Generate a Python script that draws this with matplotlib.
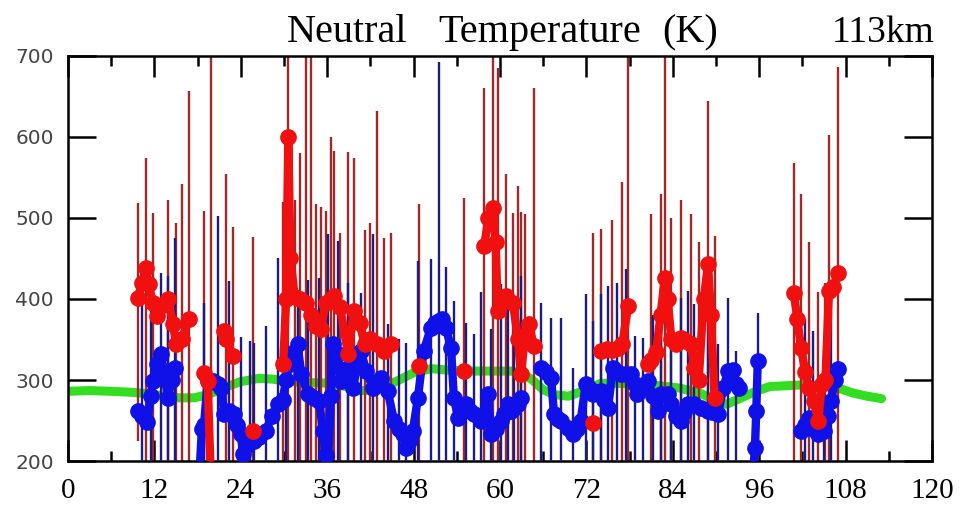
import matplotlib
matplotlib.use("Agg")
import matplotlib.pyplot as plt
from matplotlib.ticker import MultipleLocator

nan = float("nan")

# red series: local time, temperature, error bar up / down (0 = no bar)
red_x = [9.7, 10.3, 10.8, 11.2, 11.8, 12.4, 13.2, 13.9, 14.6, 15.0, 15.8, 16.8, nan,
         18.9, 19.4, 19.8, nan, 21.7, 22.0, 22.9, nan, 25.7, nan,
         29.9, 30.3, 30.6, 30.9, 31.5, 32.2, 33.1, 33.8, 34.5, 35.1, 35.8, 36.5, 37.0,
         37.8, 38.9, 39.7, 40.5, 41.2, 41.9, 42.9, 43.9, 44.9, nan, 48.8, nan, 55.0, nan,
         57.8, 58.4, 59.0, 59.4, 59.7, 60.2, 60.8, 61.8, 62.5, 62.9, 63.5, 64.0, 64.7, nan,
         72.9, nan, 74.0, 74.8, 75.6, 76.4, 77.0, 77.8, nan,
         80.5, 81.0, 81.7, 82.3, 82.9, 83.3, 83.8, 84.5, 85.2, 85.9, 86.5, 87.0, 87.6,
         88.3, 88.9, 89.3, 89.8, nan,
         100.8, 101.3, 101.8, 102.4, 102.9, 103.6, 104.2, 104.7, 105.2, 105.7, 106.3, 106.9]
red_y = [401, 420, 438, 418, 395, 379, 392, 400, 369, 344, 350, 375, nan,
         309, 299, 190, nan, 361, 350, 330, nan, 237, nan,
         320, 400, 600, 450, 402, 400, 395, 380, 367, 363, 395, 400, 404,
         390, 332, 385, 370, 345, 351, 345, 336, 344, nan, 317, nan, 311, nan,
         465, 500, 512, 470, 385, 395, 404, 395, 350, 307, 355, 369, 342, nan,
         247, nan, 336, 338, 337, 340, 345, 391, nan,
         320, 325, 335, 380, 426, 400, 350, 345, 352, 348, 345, 315, 300,
         400, 443, 380, 278, nan,
         408, 375, 340, 310, 290, 274, 249, 295, 300, 410, 415, 432]
red_up = [117, 0, 136, 0, 111, 0, 0, 122, 0, 150, 192, 282, 0,
          200, 0, 520, 0, 0, 204, 159, 0, 240, 0,
          200, 0, 150, 0, 120, 180, 330, 330, 150, 150, 113, 200, 179,
          91, 250, 189, 0, 140, 143, 287, 139, 137, 0, 200, 0, 214, 0,
          195, 0, 250, 0, 300, 0, 150, 111, 190, 200, 150, 0, 318, 0,
          234, 0, 150, 0, 160, 0, 200, 350, 0,
          0, 180, 0, 150, 300, 0, 150, 0, 170, 0, 160, 0, 170,
          0, 201, 0, 200, 0,
          160, 0, 190, 0, 180, 0, 160, 0, 120, 193, 0, 254]
red_lo = [176, 0, 260, 0, 250, 0, 0, 240, 0, 250, 230, 260, 0,
          200, 0, 100, 0, 0, 250, 230, 0, 100, 0,
          200, 0, 450, 0, 260, 250, 250, 240, 230, 260, 250, 260, 250,
          240, 200, 250, 0, 250, 240, 250, 200, 240, 0, 200, 0, 200, 0,
          300, 0, 350, 0, 250, 0, 260, 250, 200, 200, 220, 0, 250, 0,
          120, 0, 200, 0, 200, 0, 220, 250, 0,
          0, 200, 0, 250, 300, 0, 220, 0, 250, 0, 220, 0, 200,
          0, 300, 0, 200, 0,
          260, 0, 220, 0, 150, 0, 100, 0, 150, 250, 0, 300]

# blue series
blue_x = [9.7, 10.3, 11.0, 11.5, 11.8, 12.4, 12.9, 13.3, 13.9, 14.4, 14.8, nan,
          18.3, 18.6, 18.9, 19.4, 20.1, 20.8, 21.3, 21.7, 22.3, 23.0, 23.5, 24.0, 24.3,
          24.8, 25.3, 25.8, 26.5, 27.5, 28.3, 29.2, 29.8, 30.3, 30.8, 31.4, 31.9, 32.4,
          33.3, 34.2, 34.9, 35.4, 35.8, 36.1, 36.5, 36.8, 37.5, 37.9, 38.9, 39.6, 40.2,
          40.7, 41.4, 42.4, 43.5, 44.4, 45.3, 46.0, 46.5, 46.9, 47.4, 47.9, 48.6, 49.4,
          50.4, 51.0, 51.5, 52.0, 52.5, 53.2, 53.6, 54.2, 54.8, 55.3, 55.9, 56.4, 57.0,
          57.4, 58.3, 58.8, 59.5, 60.1, 60.6, 61.1, 61.6, 62.0, 62.5, 62.9, nan,
          65.7, 66.4, 67.1, 67.5, 68.0, 68.5, 69.4, 70.1, 70.7, 71.2, 71.9, 72.4, 72.9,
          73.5, 74.0, 74.5, 75.0, 75.7, 76.2, 76.8, 77.5, 78.2, 78.7, 79.1, 79.8, 80.5,
          81.2, 81.9, 82.4, 83.3, 83.8, 84.4, 85.1, 85.6, 86.1, 87.0, 87.9, 88.9, 89.5,
          90.3, 91.0, 91.7, 92.3, 92.8, 93.2, nan, 95.2, 95.4, 95.6, 95.8, nan,
          101.8, 102.3, 102.9, 103.5, 104.1, 105.0, 105.5, 106.0, 106.5, 106.9]
blue_y = [262, 255, 248, 280, 299, 320, 332, 311, 278, 300, 315, nan,
          190, 240, 245, 299, 299, 295, 290, 258, 262, 258, 245, 233, 209,
          220, 228, 225, 230, 237, 255, 270, 275, 300, 320, 335, 344, 307,
          283, 278, 274, 237, 208, 190, 280, 344, 332, 299, 315, 290, 320,
          336, 311, 290, 303, 287, 249, 240, 233, 216, 225, 237, 278, 336,
          364, 370, 373, 375, 364, 340, 278, 253, 265, 270, 262, 258, 255,
          249, 283, 233, 240, 249, 258, 270, 262, 266, 270, 278, nan,
          315, 310, 303, 258, 252, 249, 241, 233, 240, 249, 295, 290, 283,
          285, 286, 275, 266, 315, 310, 307, 307, 307, 295, 283, 290, 299,
          280, 262, 283, 283, 270, 255, 249, 260, 270, 270, 266, 262, 260,
          258, 290, 311, 312, 295, 290, nan, 190, 216, 262, 323, nan,
          237, 245, 253, 240, 233, 237, 255, 274, 300, 314]
blue_up = [0, 150, 0, 120, 0, 0, 100, 0, 150, 0, 160, 0,
           0, 0, 150, 0, 0, 207, 0, 0, 160, 0, 0, 120, 0,
           0, 120, 121, 0, 130, 0, 180, 0, 150, 0, 0, 51, 0,
           140, 0, 152, 0, 0, 290, 0, 0, 140, 0, 105, 0, 0,
           72, 0, 190, 0, 82, 0, 110, 0, 130, 0, 0, 169, 0,
           85, 0, 320, 0, 76, 0, 120, 0, 0, 100, 0, 99, 0,
           160, 0, 130, 0, 170, 0, 140, 0, 120, 0, 150, 0,
           80, 0, 74, 0, 0, 128, 0, 82, 0, 0, 111, 0, 90,
           0, 120, 0, 150, 0, 110, 0, 130, 0, 59, 0, 62, 0,
           100, 0, 130, 0, 110, 0, 152, 0, 140, 124, 0, 135, 0,
           86, 0, 90, 0, 41, 0, 0, 0, 0, 0, 60, 0,
           0, 130, 0, 120, 0, 100, 0, 110, 0, 0]
blue_lo = [0, 100, 0, 120, 0, 0, 150, 0, 100, 0, 160, 0,
           0, 0, 100, 0, 0, 150, 0, 0, 120, 0, 0, 80, 0,
           0, 80, 80, 0, 100, 0, 150, 0, 150, 0, 0, 200, 0,
           150, 0, 150, 0, 0, 100, 0, 0, 180, 0, 150, 0, 0,
           200, 0, 150, 0, 150, 0, 100, 0, 100, 0, 0, 150, 0,
           200, 0, 200, 0, 200, 0, 150, 0, 0, 100, 0, 100, 0,
           100, 0, 100, 0, 100, 0, 100, 0, 120, 0, 150, 0,
           150, 0, 150, 0, 0, 100, 0, 100, 0, 0, 150, 0, 150,
           0, 150, 0, 100, 0, 150, 0, 150, 0, 150, 0, 150, 0,
           150, 0, 150, 0, 150, 0, 100, 0, 150, 100, 0, 150, 0,
           100, 0, 150, 0, 150, 0, 0, 0, 0, 0, 100, 0,
           0, 100, 0, 100, 0, 100, 0, 100, 0, 0]

# green reference curve
green_x = [0, 3, 6, 8.5, 10, 12, 14, 15.5, 17.5, 19.5, 21.5, 24, 26.5, 28.5, 30, 33, 36.5,
           38.5, 40.5, 42.5, 44, 46, 48, 50.5, 53, 55, 58, 61.5, 63, 64.5, 66, 67.5, 69.5,
           72, 74, 76, 78.5, 82, 85, 88, 90, 91.5, 93, 95.5, 97.5, 100, 102, 104.5, 107,
           109, 111, 113]
green_y = [286, 287, 286, 285, 284, 282, 279, 278, 278, 282, 290, 298, 302, 301, 299, 297,
           296, 292, 287, 287, 292, 300, 309, 314, 312, 311, 311, 311, 309, 300, 288, 282,
           280, 288, 296, 296, 295, 293, 290, 283, 274, 270, 276, 286, 292, 293, 294, 293,
           290, 284, 280, 277]

fig = plt.figure(figsize=(9.68, 5.18), dpi=100)
ax = fig.add_axes([0.0702, 0.110, 0.8926, 0.782])

ax.plot(green_x, green_y, color="#33dd22", lw=6.5, solid_capstyle="round", zorder=1)

ax.errorbar(red_x, red_y, yerr=[red_lo, red_up], fmt="none", ecolor="#a02828",
            elinewidth=1.7, zorder=2)
ax.errorbar(blue_x, blue_y, yerr=[blue_lo, blue_up], fmt="none", ecolor="#1c1c80",
            elinewidth=1.7, zorder=3)
ax.plot(blue_x, blue_y, color="#1010e8", lw=6, marker="o", ms=11, zorder=4)
ax.plot(red_x, red_y, color="#f01010", lw=6, marker="o", ms=11, zorder=5)

ax.set_xlim(0, 120)
ax.set_ylim(200, 700)
ax.xaxis.set_major_locator(MultipleLocator(12))
ax.xaxis.set_minor_locator(MultipleLocator(6))
ax.yaxis.set_major_locator(MultipleLocator(100))

ax.tick_params(axis="both", which="major", direction="in", length=15, width=1.8,
               top=True, right=True)
ax.tick_params(axis="x", which="minor", direction="in", length=7, width=1.8,
               top=True, bottom=True)
ax.tick_params(axis="x", which="major", pad=12)
ax.tick_params(axis="y", which="major", pad=10, length=20)
for sp in ax.spines.values():
    sp.set_linewidth(1.8)

for lab in ax.get_xticklabels():
    lab.set_fontfamily("Liberation Serif")
    lab.set_fontsize(21)
for lab in ax.get_yticklabels():
    lab.set_fontfamily("DejaVu Sans")
    lab.set_fontsize(14.5)
    lab.set_color("#444444")

# title words placed separately (wide gaps in the original)
fig.text(287 / 968, 0.919, "Neutral", ha="left", va="baseline",
         family="Liberation Serif", fontsize=29)
fig.text(438 / 968, 0.919, "Temperature", ha="left", va="baseline",
         family="Liberation Serif", fontsize=29)
fig.text(662 / 968, 0.919, "(K)", ha="left", va="baseline",
         family="Liberation Serif", fontsize=29)
fig.text(935 / 968, 0.919, "113km", ha="right", va="baseline",
         family="Liberation Serif", fontsize=27)

fig.savefig("out.png", dpi=100)
